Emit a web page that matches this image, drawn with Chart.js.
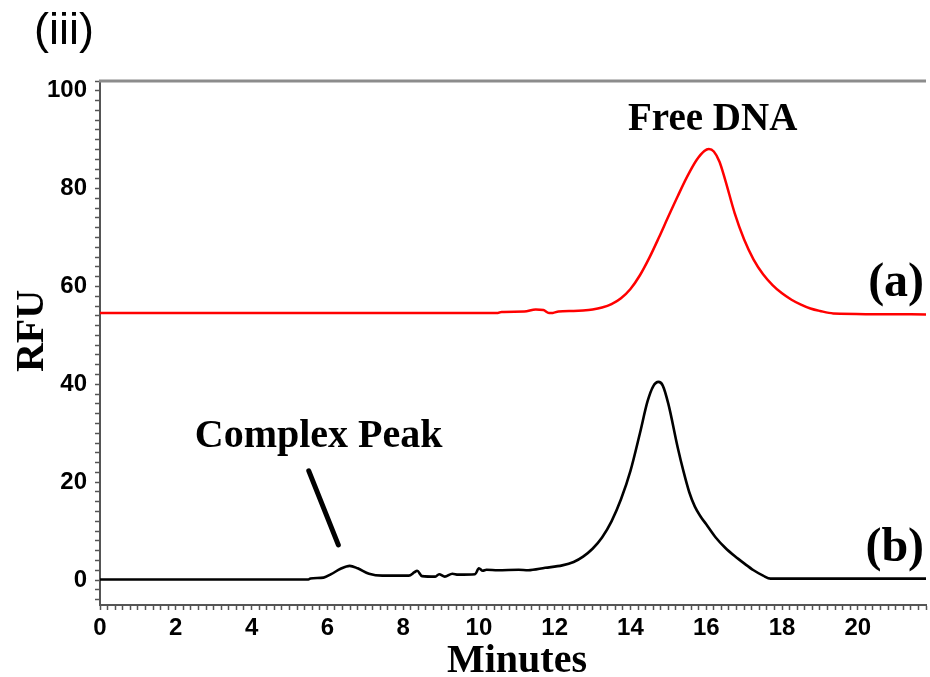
<!DOCTYPE html>
<html>
<head>
<meta charset="utf-8">
<title>(iii) RFU vs Minutes</title>
<script src="https://cdn.jsdelivr.net/npm/chart.js@4/dist/chart.umd.min.js"></script>
<style>
    html, body { margin: 0; padding: 0; background: #fff; }
    canvas { display: block; }
</style>
</head>
<body>
<canvas id="electropherogram" width="930" height="677"></canvas>
<script>
'use strict';

// ============================================================================
// DATA
// ============================================================================

/** Trace (a): free DNA only (red) */
const timeA = [0, 10.5, 10.6, 11.2, 11.5, 11.7, 11.85, 11.95, 12.1, 12.5, 12.75, 13.0, 13.25,
    13.5, 13.75, 14.0, 14.25, 14.5, 14.75, 15.0, 15.25, 15.5, 15.75, 15.95, 16.07,
    16.2, 16.35, 16.5, 16.75, 17.0, 17.25, 17.5, 17.75, 18.0, 18.25, 18.5, 18.75,
    19.0, 19.35, 21.8];
const rfuA = [54.6, 54.6, 54.8, 54.9, 55.3, 55.2, 54.6, 54.6, 54.9, 55.0, 55.1, 55.3, 55.7,
    56.4, 57.6, 59.5, 62.3, 65.9, 70.0, 74.3, 78.5, 82.5, 85.9, 87.7, 88.1,
    87.6, 85.5, 81.8, 75.0, 69.6, 65.5, 62.5, 60.3, 58.6, 57.3, 56.3, 55.5,
    55.0, 54.5, 54.3];

/** Trace (b): DNA + protein (black) */
const timeB = [0, 5.5, 5.55, 5.9, 6.1, 6.35, 6.59, 6.8, 7.1, 7.45, 8.15, 8.3, 8.37, 8.5,
    8.85, 8.95, 9.1, 9.3, 9.45, 9.9, 10.0, 10.1, 10.2, 10.5, 11.05, 11.3, 11.75, 12.2,
    12.5, 12.75, 13.0, 13.25, 13.5, 13.75, 14.0, 14.25, 14.45, 14.6, 14.74, 14.85,
    15.0, 15.25, 15.4, 15.55, 15.7, 15.85, 16.0, 16.25, 16.5, 16.75, 17.0, 17.25,
    17.5, 17.7, 21.8];
const rfuB = [0.1, 0.1, 0.3, 0.5, 1.2, 2.3, 2.9, 2.4, 1.3, 0.9, 0.9, 1.6, 1.9, 0.8,
    0.7, 1.2, 0.7, 1.3, 1.1, 1.2, 2.4, 1.9, 2.1, 2.0, 2.1, 2.0, 2.5, 3.0,
    3.7, 4.8, 6.4, 8.7, 12.0, 16.5, 22.3, 30.0, 36.5, 39.6, 40.5, 39.8,
    36.0, 27.0, 22.2, 18.0, 15.0, 13.0, 11.4, 8.7, 6.6, 4.9, 3.4, 2.0,
    0.9, 0.3, 0.3];

/** Labelled tick values */
const xTickLabels = [0, 2, 4, 6, 8, 10, 12, 14, 16, 18, 20];
const yTickLabels = [0, 20, 40, 60, 80, 100];

// ============================================================================
// LAYOUT / STYLE
// ============================================================================

const X_MIN = 0, X_MAX = 21.8;
const Y_MIN = -5.1, Y_MAX = 102;
const AXIS_COLOR = '#555';
const TICK_FONT = { family: '"Liberation Sans", Arial, sans-serif', size: 24, weight: 'bold' };
const SERIF = '"Liberation Serif", "Times New Roman", serif';

/** Annotations placed in data units (minutes, RFU) */
const notes = [
    { text: 'Free DNA', x: 16.17, y: 92.0, size: 39, align: 'center' },
    { text: 'Complex Peak', x: 5.77, y: 27.2, size: 40, align: 'center' },
    { text: '(a)', x: 21.75, y: 58.1, size: 48, align: 'right' },
    { text: '(b)', x: 21.75, y: 3.9, size: 48, align: 'right' }
];
const pointer = { x1: 5.51, y1: 22.3, x2: 6.29, y2: 7.2 };

const toPoints = (xs, ys) => xs.map((x, i) => ({ x, y: ys[i] }));

/**
 * Draws the panel label, axis titles, top frame line and annotations.
 */
const decorPlugin = {
    id: 'decor',
    afterDraw(chart) {
        const { ctx, chartArea, scales } = chart;
        const xs = scales.x, ys = scales.y;
        ctx.save();

        // top frame line
        ctx.strokeStyle = '#8c8c8c';
        ctx.lineWidth = 3;
        ctx.beginPath();
        ctx.moveTo(chartArea.left - 1, chartArea.top);
        ctx.lineTo(chartArea.right, chartArea.top);
        ctx.stroke();

        ctx.fillStyle = '#000';
        ctx.textBaseline = 'alphabetic';

        // panel label
        ctx.font = '45px "Liberation Sans", Arial, sans-serif';
        ctx.textAlign = 'left';
        ctx.fillText('(iii)', 34, 44);

        // axis titles
        ctx.font = 'bold 40px ' + SERIF;
        ctx.textAlign = 'center';
        ctx.fillText('Minutes', 517, 672);
        ctx.save();
        ctx.translate(43, 331);
        ctx.rotate(-Math.PI / 2);
        ctx.fillText('RFU', 0, 0);
        ctx.restore();

        // in-plot annotations
        notes.forEach(note => {
            ctx.font = 'bold ' + note.size + 'px ' + SERIF;
            ctx.textAlign = note.align;
            ctx.fillText(note.text, xs.getPixelForValue(note.x), ys.getPixelForValue(note.y));
        });

        // pointer to the complex peak
        ctx.strokeStyle = '#000';
        ctx.lineWidth = 5;
        ctx.lineCap = 'round';
        ctx.beginPath();
        ctx.moveTo(xs.getPixelForValue(pointer.x1), ys.getPixelForValue(pointer.y1));
        ctx.lineTo(xs.getPixelForValue(pointer.x2), ys.getPixelForValue(pointer.y2));
        ctx.stroke();

        ctx.restore();
    }
};

// ============================================================================
// CHART
// ============================================================================

function renderChart() {
    const canvas = document.getElementById('electropherogram');
    const context = canvas.getContext('2d');

    new Chart(context, {
        type: 'line',
        data: {
            datasets: [{
                label: '(a)',
                data: toPoints(timeA, rfuA),
                borderColor: '#ff0000',
                borderWidth: 2.5
            }, {
                label: '(b)',
                data: toPoints(timeB, rfuB),
                borderColor: '#000000',
                borderWidth: 2.6
            }]
        },
        options: {
            responsive: false,
            animation: false,
            parsing: false,
            cubicInterpolationMode: 'monotone',
            elements: { point: { radius: 0 } },
            layout: { padding: { top: 81, right: 0, bottom: 0, left: 0 } },
            plugins: {
                legend: { display: false },
                tooltip: { enabled: false }
            },
            scales: {
                x: {
                    type: 'linear',
                    min: X_MIN,
                    max: X_MAX,
                    afterFit: scale => { scale.height = 72; },
                    afterBuildTicks: scale => {
                        const ticks = [];
                        for (let i = 0; i / 5 <= X_MAX; i++) ticks.push({ value: i / 5 });
                        scale.ticks = ticks;
                    },
                    border: { display: true, color: AXIS_COLOR, width: 2 },
                    grid: { drawOnChartArea: false, tickLength: 5, tickColor: AXIS_COLOR, tickWidth: 1.5 },
                    ticks: {
                        autoSkip: false,
                        maxRotation: 0,
                        padding: 4,
                        color: '#000',
                        font: TICK_FONT,
                        callback: value => {
                            const hit = xTickLabels.find(t => Math.abs(t - value) < 1e-6);
                            return hit === undefined ? '' : String(hit);
                        }
                    }
                },
                y: {
                    type: 'linear',
                    min: Y_MIN,
                    max: Y_MAX,
                    afterFit: scale => { scale.width = 100; },
                    afterBuildTicks: scale => {
                        const ticks = [];
                        for (let v = -4; v <= Y_MAX; v += 2) ticks.push({ value: v });
                        scale.ticks = ticks;
                    },
                    border: { display: true, color: AXIS_COLOR, width: 2 },
                    grid: { drawOnChartArea: false, tickLength: 5, tickColor: AXIS_COLOR, tickWidth: 1.5 },
                    ticks: {
                        autoSkip: false,
                        padding: 8,
                        color: '#000',
                        font: TICK_FONT,
                        callback: value => yTickLabels.includes(value) ? String(value) : ''
                    }
                }
            }
        },
        plugins: [decorPlugin]
    });
}

renderChart();
</script>
</body>
</html>
